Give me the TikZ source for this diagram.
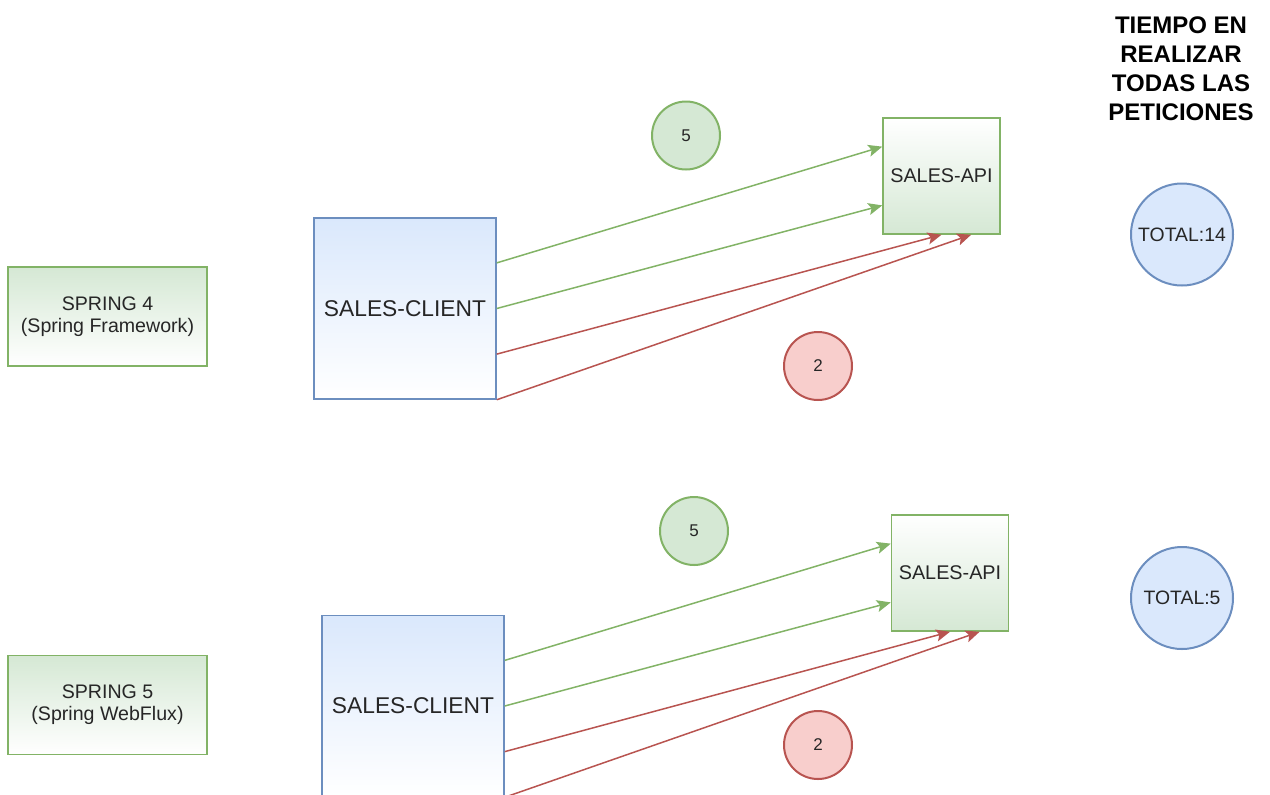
\documentclass[tikz,border=0pt]{standalone}
\usepackage{fontspec}
\setmainfont{Liberation Sans}
\usetikzlibrary{arrows.meta,calc}
\definecolor{verdeFill}{HTML}{D5E8D4}
\definecolor{verdeLine}{HTML}{82B366}
\definecolor{azulFill}{HTML}{DAE8FC}
\definecolor{azulLine}{HTML}{6C8EBF}
\definecolor{rojoFill}{HTML}{F8CECC}
\definecolor{rojoLine}{HTML}{B85450}
\tikzset{
  caja/.style={draw=verdeLine, line width=0.75pt, top color=verdeFill, bottom color=white,
    minimum width=99.5pt, minimum height=49.5pt, inner sep=0pt, align=center,
    text=black!85, font=\fontsize{9.8}{11}\selectfont},
  cliente/.style={draw=azulLine, line width=0.75pt, top color=azulFill, bottom color=white,
    minimum width=91pt, minimum height=90.5pt, inner sep=0pt,
    text=black!85, font=\fontsize{11.4}{13}\selectfont},
  api/.style={draw=verdeLine, line width=0.75pt, top color=white, bottom color=verdeFill,
    minimum width=58.5pt, minimum height=58pt, inner sep=0pt,
    text=black!85, font=\fontsize{9.9}{11}\selectfont},
  bola/.style={circle, line width=1pt, minimum size=34pt, inner sep=0pt,
    text=black!85, font=\fontsize{8.5}{10}\selectfont},
  ok/.style={bola, draw=verdeLine, fill=verdeFill},
  err/.style={bola, draw=rojoLine, fill=rojoFill},
  total/.style={circle, draw=azulLine, fill=azulFill, line width=1pt, minimum size=51pt,
    inner sep=0pt, text=black!85, font=\fontsize{9.7}{11}\selectfont},
  flechaok/.style={-{Stealth[length=7pt,width=6pt,inset=1.5pt]}, draw=verdeLine, line width=0.75pt},
  flechaerr/.style={-{Stealth[length=7pt,width=6pt,inset=1.5pt]}, draw=rojoLine, line width=0.75pt},
}
\begin{document}
\begin{tikzpicture}[x=0.5pt,y=-0.5pt]
\clip (0,0) rectangle (1270,794);
\node[align=center, font=\bfseries\fontsize{12}{14.5}\selectfont] (titulo) at (1181,69)
  {TIEMPO EN\\REALIZAR\\TODAS LAS\\PETICIONES};
\node[caja] (spring4) at (107.5,316.5) {SPRING 4\\(Spring Framework)};
\node[cliente] (client1) at (405,308.5) {SALES-CLIENT};
\node[api] (api1) at (941.5,176) {SALES-API};
\node[ok] (ok1) at (686,135.5) {5};
\node[err] (err1) at (818,366) {2};
\node[total] (total1) at (1182,234.5) {TOTAL:14};
\draw[flechaok] ($(client1.north east)!0.25!(client1.south east)$) -- ($(api1.north west)!0.25!(api1.south west)$);
\draw[flechaok] (client1.east) -- ($(api1.north west)!0.75!(api1.south west)$);
\draw[flechaerr] ($(client1.north east)!0.75!(client1.south east)$) -- (api1.south);
\draw[flechaerr] (client1.south east) -- ($(api1.south west)!0.75!(api1.south east)$);
\node[caja] (spring5) at (107.5,705) {SPRING 5\\(Spring WebFlux)};
\node[cliente] (client2) at (413,706) {SALES-CLIENT};
\node[api] (api2) at (950,573) {SALES-API};
\node[ok] (ok2) at (694,531) {5};
\node[err] (err2) at (818,745) {2};
\node[total] (total2) at (1182,598) {TOTAL:5};
\draw[flechaok] ($(client2.north east)!0.25!(client2.south east)$) -- ($(api2.north west)!0.25!(api2.south west)$);
\draw[flechaok] (client2.east) -- ($(api2.north west)!0.75!(api2.south west)$);
\draw[flechaerr] ($(client2.north east)!0.75!(client2.south east)$) -- (api2.south);
\draw[flechaerr] (client2.south east) -- ($(api2.south west)!0.75!(api2.south east)$);
\end{tikzpicture}
\end{document}
